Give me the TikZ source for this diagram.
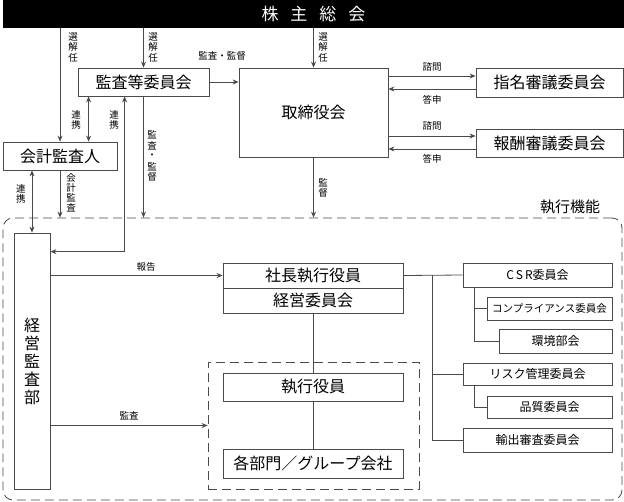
\documentclass[tikz,border=0pt]{standalone}
\usepackage{fontspec}
\setmainfont{Noto Sans CJK JP}
\usetikzlibrary{arrows.meta}
\definecolor{lgray}{HTML}{4A4A4A}
\makeatletter
\newcommand{\tate}[2]{\vbox{\offinterlineskip\@tfor\tate@c:=#2\do{\vbox to #1{\vss\hbox to 1em{\hss\tate@c\hss}\vss}}}}
\makeatother

\begin{document}
\begin{tikzpicture}[x=1pt,y=-1pt,
    box/.style={draw=lgray, line width=0.8pt, fill=white, inner sep=0pt,
      font=\fontsize{16}{18}\selectfont},
    sbox/.style={box, font=\fontsize{12}{14}\selectfont},
    arr/.style={draw=lgray, line width=0.8pt, -{Stealth[length=6pt,width=5pt]}},
    dbl/.style={draw=lgray, line width=0.8pt, {Stealth[length=6pt,width=5pt]}-{Stealth[length=6pt,width=5pt]}},
    line/.style={draw=lgray, line width=0.8pt},
    dashbox/.style={draw=lgray, line width=0.8pt, dash pattern=on 9pt off 5pt, inner sep=0pt},
    lbl/.style={inner sep=0pt, font=\fontsize{9.5}{10.5}\selectfont}]
  \useasboundingbox (0,0) rectangle (624,501);

  \node[fill=black, minimum width=621, minimum height=28, inner sep=0pt, text=white,
    font=\fontsize{17}{19}\selectfont] (soukai) at (313.5,14)
    {株\hspace{12pt}主\hspace{12pt}総\hspace{12pt}会};

  \node[dashbox, rounded corners=10pt, minimum width=619, minimum height=282] (kinou) at (312.5,359) {};
  \node[dashbox, minimum width=211, minimum height=127] (bumon) at (313.5,425.5) {};
  \node[inner sep=0pt, font=\fontsize{15}{17}\selectfont] (kinoulbl) at (570,207) {執行機能};

  \node[box, minimum width=131, minimum height=28] (kansa) at (143.5,82) {監査等委員会};
  \node[box, minimum width=149, minimum height=89] (torishimari) at (313.5,112.5) {取締役会};
  \node[box, minimum width=147, minimum height=29] (shimei) at (549.5,82.5) {指名審議委員会};
  \node[box, minimum width=147, minimum height=28] (houshu) at (549.5,143) {報酬審議委員会};
  \node[box, minimum width=114, minimum height=28] (kaikei) at (60,156) {会計監査人};
  \node[box, minimum width=36, minimum height=256] (keiei) at (32,361) {\tate{18pt}{経営監査部}};
  \node[box, minimum width=180, minimum height=25] (shacho) at (313,275.5) {社長執行役員};
  \node[box, minimum width=180, minimum height=25] (iinkai) at (313,300.5) {経営委員会};
  \node[box, minimum width=180, minimum height=28] (shikko) at (313,387) {執行役員};
  \node[box, minimum width=180, minimum height=29] (kakubu) at (313,463.5) {各部門／グループ会社};

  \node[sbox, minimum width=149, minimum height=24] (csr) at (537.5,275) {C\hspace{2pt}S\hspace{2pt}R委員会};
  \node[sbox, minimum width=125, minimum height=23, font=\fontsize{10.5}{12}\selectfont] (comp) at (549.5,308.5) {コンプライアンス委員会};
  \node[sbox, minimum width=113, minimum height=24] (kankyo) at (555.5,341) {環境部会};
  \node[sbox, minimum width=149, minimum height=22] (risk) at (537.5,374) {リスク管理委員会};
  \node[sbox, minimum width=125, minimum height=22] (hinshitsu) at (549.5,407) {品質委員会};
  \node[sbox, minimum width=149, minimum height=24] (yushutsu) at (537.5,440) {輸出審査委員会};

  % 株主総会から
  \draw[arr] (soukai.south -| kaikei.north) -- (kaikei.north);
  \draw[arr] (soukai.south -| kansa.north) -- (kansa.north);
  \draw[arr] (soukai.south -| torishimari.north) -- (torishimari.north);
  \node[lbl] at (73,47) {\tate{10.5pt}{選解任}};
  \node[lbl] at (153,47) {\tate{10.5pt}{選解任}};
  \node[lbl] at (323,47) {\tate{10.5pt}{選解任}};

  % 監査等委員会
  \draw[arr] (kansa.east) -- (kansa.east -| torishimari.west);
  \node[lbl] at (222,56) {監査・監督};
  \draw[dbl] ([xshift=11pt]kansa.south west) -- ([xshift=11pt]kansa.south west |- kaikei.north);
  \node[lbl] at (76,120) {\tate{10.5pt}{連携}};
  \draw[dbl] ([xshift=47pt]kansa.south west) |- ([yshift=-19pt]keiei.north east);
  \node[lbl] at (114,120) {\tate{10.5pt}{連携}};
  \draw[arr] (kansa.south) -- (kansa.south |- kinou.north);
  \node[lbl] at (152,156) {\tate{10.5pt}{監査・監督}};

  % 会計監査人
  \draw[arr] (kaikei.south) -- (kaikei.south |- kinou.north);
  \node[lbl] at (71,193) {\tate{10pt}{会計監査}};
  \draw[dbl] (keiei.north) -- (keiei.north |- kaikei.south);
  \node[lbl] at (21,194) {\tate{10.5pt}{連携}};

  % 取締役会
  \draw[arr] (torishimari.south) -- (torishimari.south |- kinou.north);
  \node[lbl] at (323,188) {\tate{10.5pt}{監督}};
  \draw[arr] ([yshift=6.5pt]shimei.west -| torishimari.east) -- ([yshift=6.5pt]shimei.west);
  \draw[arr] ([yshift=-6.5pt]shimei.west) -- ([yshift=-6.5pt]shimei.west -| torishimari.east);
  \node[lbl] at (432,67) {諮問};
  \node[lbl] at (432,100) {答申};
  \draw[arr] ([yshift=7pt]houshu.west -| torishimari.east) -- ([yshift=7pt]houshu.west);
  \draw[arr] ([yshift=-6pt]houshu.west) -- ([yshift=-6pt]houshu.west -| torishimari.east);
  \node[lbl] at (432,126) {諮問};
  \node[lbl] at (432,159) {答申};

  % 経営監査部
  \draw[arr] (shacho.west -| keiei.east) -- (shacho.west);
  \node[lbl] at (146,267) {報告};
  \draw[arr] (bumon.west -| keiei.east) -- (bumon.west);
  \node[lbl] at (129,416) {監査};

  % 執行
  \draw[line] (iinkai.south) -- (shikko.north);
  \draw[line] (shikko.south) -- (kakubu.north);
  \draw[line] (shacho.east) -- (csr.west);
  \coordinate (bunki) at (432,275);
  \draw[line] (bunki) |- (yushutsu.west);
  \draw[line] (bunki |- risk.west) -- (risk.west);
  \draw[line] ([xshift=12pt]csr.south west) |- (kankyo.west);
  \draw[line] ([xshift=12pt]csr.south west |- comp.west) -- (comp.west);
  \draw[line] ([xshift=12pt]risk.south west) |- (hinshitsu.west);
\end{tikzpicture}
\end{document}
